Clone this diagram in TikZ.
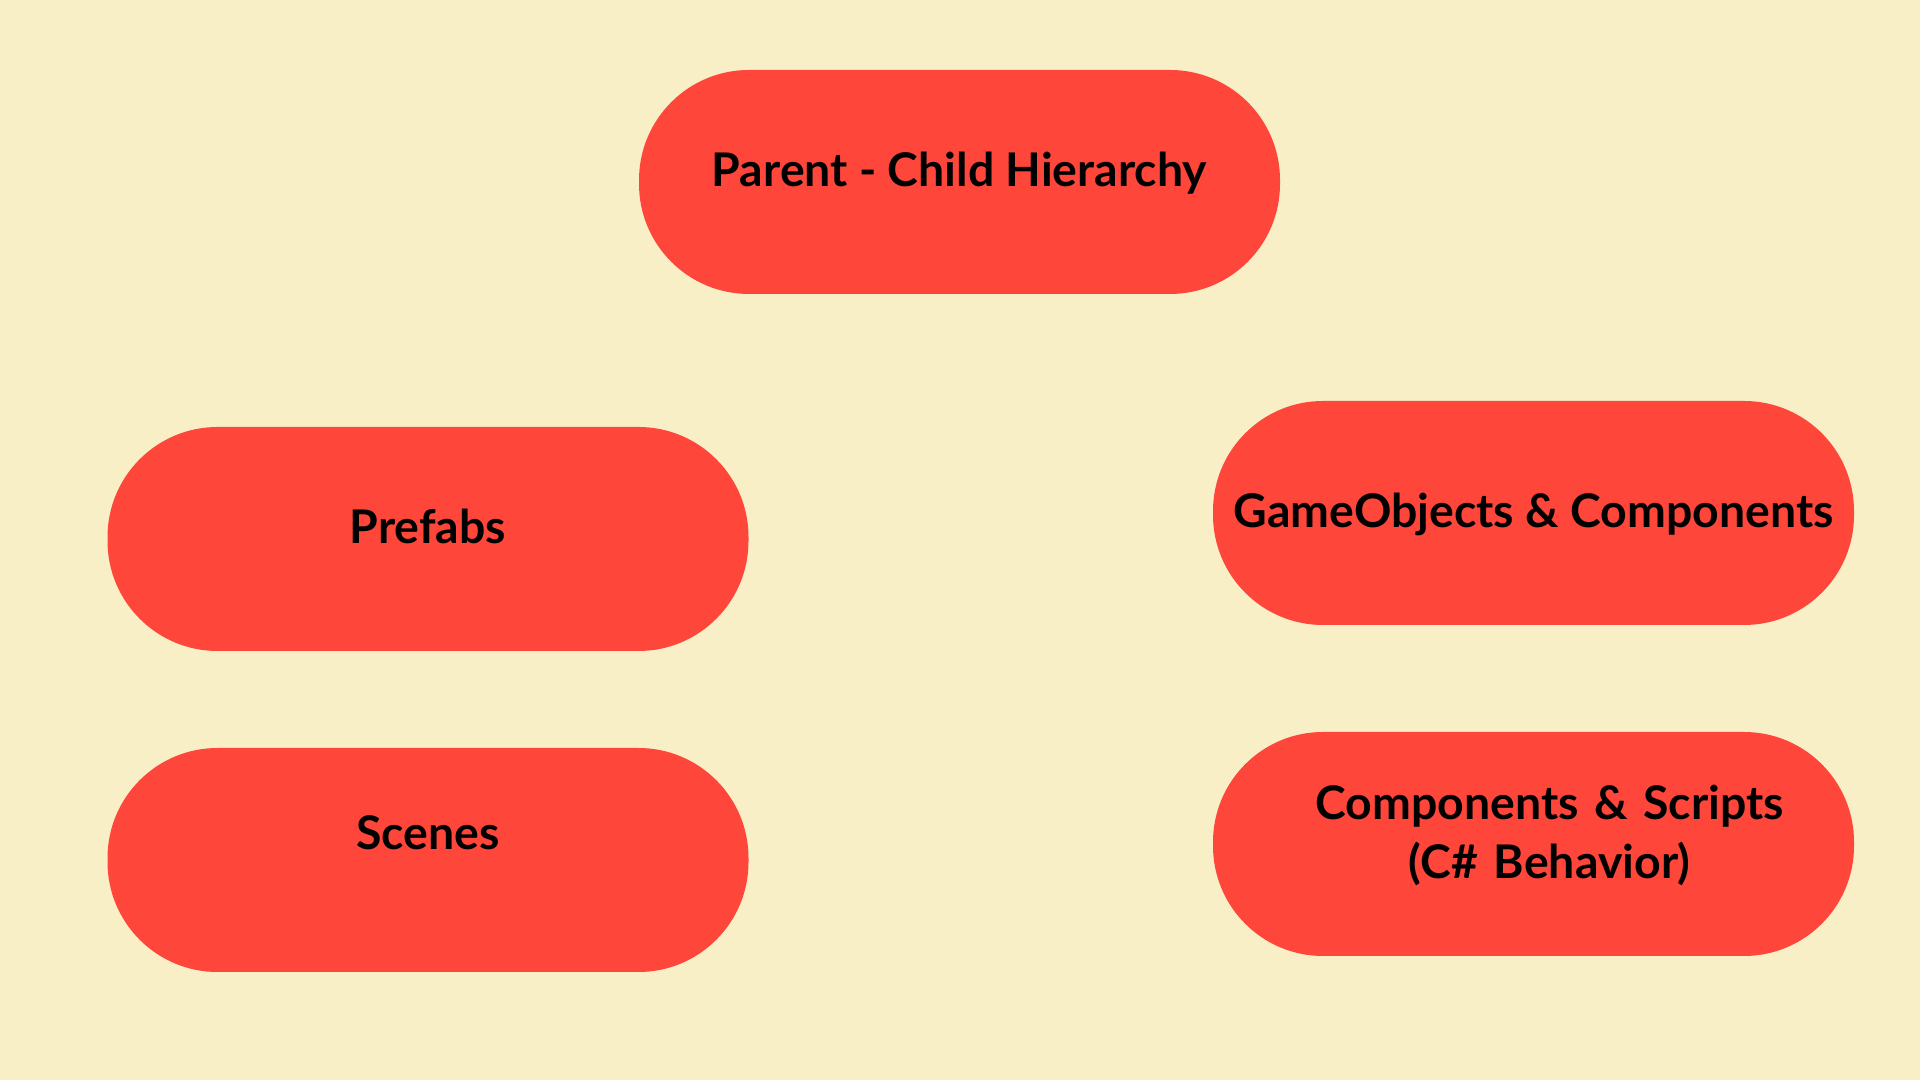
\documentclass[tikz,border=0pt]{standalone}
\usepackage{fontspec}
\setmainfont{Lato}
\definecolor{bgcream}{RGB}{248,239,199}
\definecolor{pillred}{RGB}{255,70,59}
\begin{document}
\begin{tikzpicture}[pill/.style={shape=rectangle,rounded corners=1.1cm,fill=pillred,minimum width=6.41cm,minimum height=2.24cm,font=\bfseries\fontsize{13.2}{16.8}\selectfont,text height=0.3cm},pillT/.style={pill,text depth=0.21cm},pillW/.style={pill,text width=5.8cm,align=center}]
\def\xl{4.28};
\def\xm{9.595};
\def\xr{15.335};

\fill[bgcream] (0,0) rectangle (19.2,10.8);

\node[pillT] (hier) at (\xm,8.98) {Parent - Child Hierarchy};

\node[pillT] (prefabs) at (\xl,5.41) {Prefabs};
\node[pill,text depth=0.5cm] (scenes) at (\xl,2.20) {Scenes};

\node[pill,text depth=0cm] (gameobj) at (\xr,5.67) {GameObjects \& Components};
\node[pillW,text depth=0.79cm] (scripts) at (\xr,2.36) {\hspace*{0.32cm}Components \& Scripts\\\hspace*{0.32cm}(C\# Behavior)};
\end{tikzpicture}
\end{document}
